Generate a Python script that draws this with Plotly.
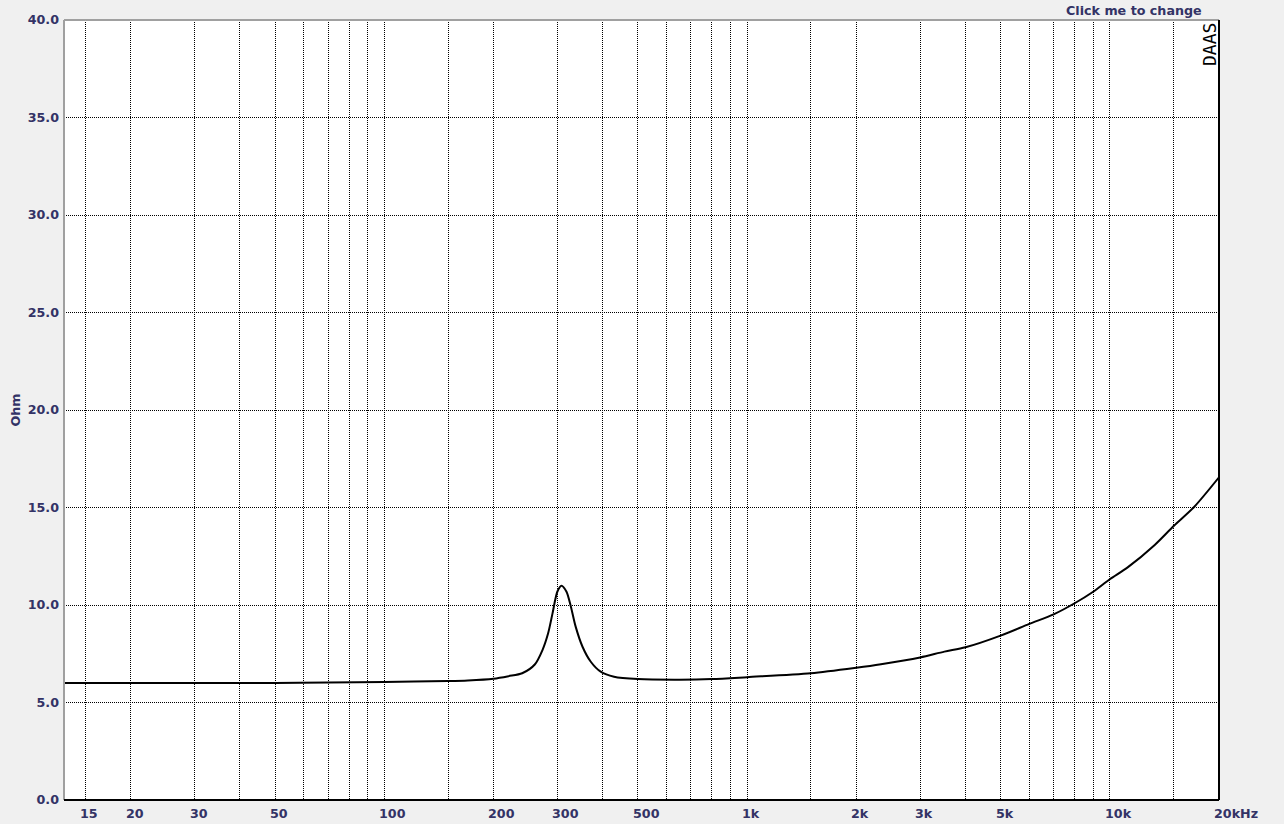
import numpy as np
import plotly.graph_objects as go

# ---- data ----
freq_hz = [13, 15, 20, 30, 50, 70, 100, 150, 170, 200, 220, 240, 260, 273, 283, 291,
           300, 308, 318, 327, 337, 352, 371, 395, 430, 500, 650, 800, 1000, 1500,
           2000, 2340, 3000, 3500, 4000, 5000, 6000, 7000, 8000, 9000, 10000, 11200,
           13300, 15000, 17100, 20000]
impedance_ohm = [6.0, 6.0, 6.0, 6.0, 6.0, 6.02, 6.05, 6.1, 6.13, 6.22, 6.35, 6.5, 6.95,
                 7.69, 8.55, 9.57, 10.68, 10.99, 10.68, 9.91, 8.89, 7.86, 7.09, 6.58,
                 6.32, 6.2, 6.17, 6.2, 6.3, 6.5, 6.78, 6.96, 7.31, 7.61, 7.83, 8.43,
                 9.03, 9.52, 10.09, 10.68, 11.32, 11.93, 13.08, 14.05, 15.04, 16.55]

grid_freqs = [15, 20, 30, 40, 50, 60, 70, 80, 90, 100, 150, 200, 300, 400, 500, 600,
              700, 800, 900, 1000, 1500, 2000, 3000, 4000, 5000, 6000, 7000, 8000,
              9000, 10000, 15000]
label_freqs = [15, 20, 30, 50, 100, 200, 300, 500, 1000, 2000, 3000, 5000, 10000, 20000]
label_texts = ["15", "20", "30", "50", "100", "200", "300", "500", "1k", "2k", "3k",
               "5k", "10k", "20kHz"]
y_ticks = [0, 5, 10, 15, 20, 25, 30, 35, 40]

TXT = "#333366"
FONT = "DejaVu Sans"
FS = 12.7

fig = go.Figure()
fig.add_trace(go.Scatter(x=freq_hz, y=impedance_ohm, mode="lines",
                         line=dict(color="black", width=2, shape="spline", smoothing=0.8),
                         hoverinfo="skip", showlegend=False))

fig.update_xaxes(type="log", range=[np.log10(13.1), np.log10(20000)],
                 tickvals=grid_freqs, showticklabels=False, ticks="",
                 showgrid=True, gridcolor="black", gridwidth=1, griddash="1px,1px",
                 zeroline=False, showline=False, fixedrange=True)
fig.update_yaxes(range=[0, 40], tickvals=y_ticks, tickformat=".1f",
                 ticks="", showgrid=True, gridcolor="black", gridwidth=1,
                 griddash="1px,1px", zeroline=False, showline=False, fixedrange=True,
                 tickfont=dict(family=FONT, size=FS, color=TXT, weight="bold"),
                 ticklabelstandoff=4,
                 title=dict(text="<b>Ohm</b>", font=dict(family=FONT, size=FS, color=TXT),
                            standoff=4))

annotations = []
for f, t in zip(label_freqs, label_texts):
    annotations.append(dict(x=np.log10(f), y=0, xref="x", yref="paper",
                            text="<b>%s</b>" % t, showarrow=False, xanchor="left",
                            yanchor="top", xshift=-7, yshift=-4,
                            font=dict(family=FONT, size=FS, color=TXT)))
annotations.append(dict(x=1, y=1, xref="paper", yref="paper",
                        text="<b>Click me to change</b>", showarrow=False,
                        xanchor="right", yanchor="bottom", xshift=-15, yshift=0,
                        font=dict(family=FONT, size=FS, color=TXT)))
annotations.append(dict(x=1, y=1, xref="paper", yref="paper", text="DAAS",
                        showarrow=False, textangle=-90, xanchor="right",
                        yanchor="top", xshift=3, yshift=-1,
                        font=dict(family="DejaVu Sans Mono", size=18, color="black")))

shapes = [
    dict(type="line", xref="paper", yref="paper", x0=0, x1=1, y0=1, y1=1,
         line=dict(color="#a0a0a0", width=2)),
    dict(type="line", xref="paper", yref="paper", x0=0, x1=0, y0=0, y1=1,
         line=dict(color="#a0a0a0", width=2)),
    dict(type="line", xref="paper", yref="paper", x0=0, x1=1, y0=0, y1=0,
         line=dict(color="black", width=2)),
    dict(type="line", xref="paper", yref="paper", x0=1, x1=1, y0=0, y1=1,
         line=dict(color="black", width=2)),
]

fig.update_layout(width=1284, height=824, autosize=False,
                  margin=dict(l=64, r=65, t=20, b=24, pad=0),
                  paper_bgcolor="#f0f0f0", plot_bgcolor="white",
                  annotations=annotations, shapes=shapes, showlegend=False)

fig.write_html("out.html", config={"displayModeBar": False},
               post_script="document.body.style.margin='0';"
                           "document.body.style.background='#f0f0f0';"
                           "document.body.style.overflow='hidden';")
